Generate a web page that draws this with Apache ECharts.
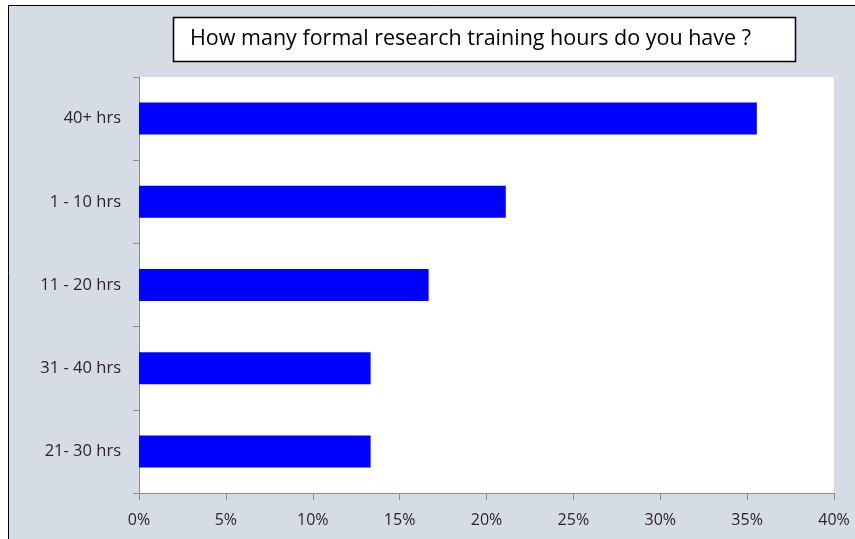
<!DOCTYPE html>
<html>
<head>
<meta charset="utf-8">
<script src="https://cdn.jsdelivr.net/npm/echarts@6/dist/echarts.min.js"></script>
<style>
  html, body { margin: 0; padding: 0; background: #ffffff; }
  #chart { width: 855px; height: 539px; }
</style>
</head>
<body>
<div id="chart"></div>
<script>
// Survey answers, listed bottom to top as drawn on the category axis
var categories = ['21- 30 hrs', '31 - 40 hrs', '11 - 20 hrs', '1 - 10 hrs', '40+ hrs'];
var shares = [13.33, 13.33, 16.67, 21.11, 35.56];   // percent of respondents
var xTicks = [0, 5, 10, 15, 20, 25, 30, 35, 40];
var titleText = 'How many formal research training hours do you have ?';

var font = '"Open Sans", "Noto Sans", sans-serif';
var chart = echarts.init(document.getElementById('chart'), null, { renderer: 'canvas' });

chart.setOption({
  backgroundColor: '#ffffff',
  animation: false,
  graphic: [
    {
      type: 'rect', z: -10, silent: true,
      shape: { x: 8.5, y: 5.5, width: 860, height: 560 },
      style: { fill: '#d6dce5', stroke: '#000000', lineWidth: 1 }
    },
    {
      type: 'rect', z: -5, silent: true,
      shape: { x: 139, y: 77, width: 695, height: 416 },
      style: { fill: '#ffffff' }
    },
    {
      type: 'rect', silent: true,
      shape: { x: 173.5, y: 17.5, width: 622, height: 44 },
      style: { fill: '#ffffff', stroke: '#000000', lineWidth: 1.5 }
    },
    {
      type: 'text', silent: true,
      left: 190, top: 28,
      style: { text: titleText, font: '21.5px ' + font, fill: '#000000' }
    }
  ],
  grid: { left: 139, right: 21, top: 77, bottom: 46 },
  xAxis: {
    type: 'value',
    min: xTicks[0],
    max: xTicks[xTicks.length - 1],
    interval: 5,
    axisLine: { show: true, lineStyle: { color: '#8c8c8c', width: 1 } },
    axisTick: { show: true, length: 7, lineStyle: { color: '#8c8c8c' } },
    splitLine: { show: false },
    axisLabel: {
      margin: 19,
      color: '#262626',
      fontFamily: font,
      fontSize: 16,
      formatter: function (v) { return v + '%'; }
    }
  },
  yAxis: {
    type: 'category',
    data: categories,
    axisLine: { show: true, lineStyle: { color: '#8c8c8c', width: 1 } },
    axisTick: { show: true, length: 6, lineStyle: { color: '#8c8c8c' } },
    axisLabel: {
      margin: 18,
      color: '#262626',
      fontFamily: font,
      fontSize: 16.5
    }
  },
  series: [{
    type: 'bar',
    data: shares,
    barWidth: 32,
    itemStyle: { color: '#0000ff' }
  }]
});
</script>
</body>
</html>
